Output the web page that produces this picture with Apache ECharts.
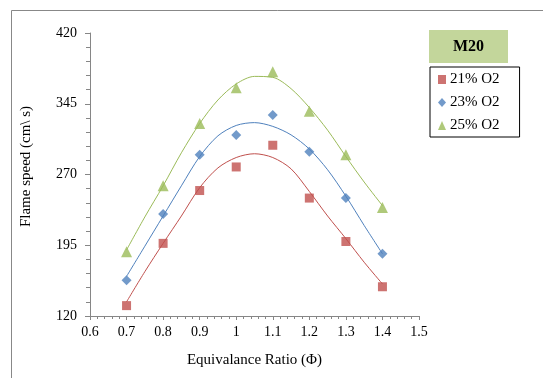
<!DOCTYPE html>
<html>
<head>
<meta charset="utf-8">
<script src="https://cdn.jsdelivr.net/npm/echarts@6/dist/echarts.min.js"></script>
<style>
html,body{margin:0;padding:0;background:#fff;}
#chart{width:543px;height:378px;}
</style>
</head>
<body>
<div id="chart"></div>
<script>
// Measured points
const phi = [0.7, 0.8, 0.9, 1.0, 1.1, 1.2, 1.3, 1.4];
const o21 = [131, 197, 253, 278, 301, 245, 199, 151];
const o23 = [158, 228, 291, 312, 333, 294, 245, 186];
const o25 = [188, 258, 324, 362, 379, 337, 291, 235];

// Trendlines
const trendPhi = [0.7, 0.75, 0.8, 0.85, 0.9, 0.95, 1.0, 1.05, 1.1, 1.15, 1.2, 1.25, 1.3, 1.35, 1.4];
const t21 = [135, 167, 197, 226, 256, 277, 288, 292, 288, 276, 252, 226, 202, 177, 154];
const t23 = [162, 194, 226, 258, 289, 311, 322, 325, 321, 312, 297, 275, 247, 216, 186];
const t25 = [190, 225, 258, 293, 324, 349, 366, 374, 373, 361, 341, 317, 289, 262, 237];

const seriesNames = ['21% O2', '23% O2', '25% O2'];
const legendTitle = 'M20';
const xTitle = 'Equivalance Ratio (\u03A6)';
const yTitle = 'Flame speed (cm\\ s)';

const colors = ['#c0504d', '#4f81bd', '#9bbb59'];
const symbols = ['rect', 'diamond', 'triangle'];
const symbolSizes = [9, 10, 11];
const serif = '"Liberation Serif", "Times New Roman", serif';

const pts = [o21, o23, o25];
const trends = [t21, t23, t25];

const series = [];
trends.forEach((t, i) => {
  series.push({
    name: 'trend' + i,
    type: 'line',
    data: trendPhi.map((x, k) => [x, t[k]]),
    smooth: 0.3,
    showSymbol: false,
    symbol: 'none',
    lineStyle: { color: colors[i], width: 1 },
    z: 2,
    silent: true
  });
});
pts.forEach((p, i) => {
  series.push({
    name: seriesNames[i],
    type: 'scatter',
    data: phi.map((x, k) => [x, p[k]]),
    symbol: symbols[i],
    symbolSize: symbolSizes[i],
    itemStyle: { color: colors[i] },
    z: 5
  });
});

const chart = echarts.init(document.getElementById('chart'), null, { renderer: 'canvas' });
chart.setOption({
  animation: false,
  backgroundColor: '#fff',
  grid: { left: 90, right: 124, top: 33, bottom: 62 },
  xAxis: {
    type: 'value',
    min: 0.6, max: 1.5, interval: 0.1,
    name: xTitle,
    nameLocation: 'middle',
    nameGap: 37,
    nameTextStyle: { fontFamily: serif, fontSize: 15, color: '#000' },
    axisLine: { show: true, lineStyle: { color: '#868686' } },
    axisTick: { show: true, length: 4, lineStyle: { color: '#868686' } },
    minorTick: { show: true, splitNumber: 5, length: 3, lineStyle: { color: '#868686' } },
    splitLine: { show: false },
    axisLabel: { fontFamily: serif, fontSize: 14, color: '#000', margin: 9,
      formatter: v => String(Math.round(v * 10) / 10) }
  },
  yAxis: {
    type: 'value',
    min: 120, max: 420, interval: 75,
    name: yTitle,
    nameLocation: 'middle',
    nameGap: 56,
    nameTextStyle: { fontFamily: serif, fontSize: 15, color: '#000', padding: [0, 0, 0, 16] },
    axisLine: { show: true, lineStyle: { color: '#868686' } },
    axisTick: { show: true, length: 5, lineStyle: { color: '#868686' } },
    minorTick: { show: true, splitNumber: 5, length: 4, lineStyle: { color: '#868686' } },
    splitLine: { show: false },
    axisLabel: { fontFamily: serif, fontSize: 14, color: '#000', margin: 13 }
  },
  legend: {
    data: seriesNames.map((n, i) => ({ name: n, icon: symbols[i] })),
    orient: 'vertical',
    left: 430, top: 67,
    width: 81,
    padding: [5, 20, 4, 8],
    itemGap: 8,
    itemWidth: 8, itemHeight: 9,
    borderColor: '#000', borderWidth: 1,
    backgroundColor: '#fff',
    textStyle: { fontFamily: serif, fontSize: 15, color: '#000', padding: [0, 0, 0, -1] }
  },
  graphic: [
    {
      type: 'rect',
      left: 9, top: 8,
      shape: { width: 700, height: 500 },
      style: { fill: 'none', stroke: '#888', lineWidth: 1 },
      silent: true, z: -10
    },
    {
      type: 'rect',
      left: 429, top: 30,
      shape: { width: 79, height: 33 },
      style: { fill: '#c3d69b' },
      z: 10
    },
    {
      type: 'text',
      x: 468.5, y: 46.5,
      style: { text: legendTitle, fontFamily: serif, fontSize: 16, fontWeight: 'bold',
        fill: '#000', textAlign: 'center', textVerticalAlign: 'middle' },
      z: 11
    }
  ],
  series: series
});
</script>
</body>
</html>
